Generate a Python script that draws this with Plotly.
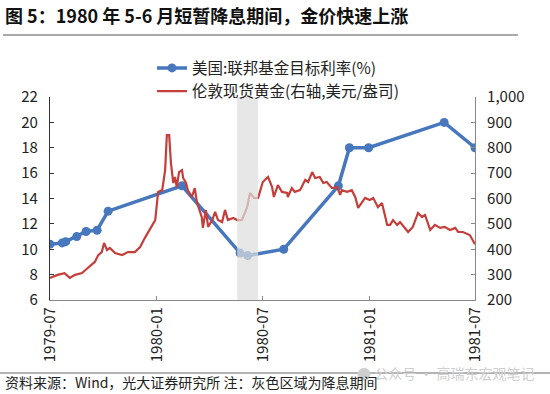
import plotly.graph_objects as go

# Fed funds target rate (%)
ff_dates = ["1979-07-01", "1979-07-22", "1979-07-28", "1979-08-16", "1979-09-01",
            "1979-09-20", "1979-10-09", "1980-02-13", "1980-05-23", "1980-06-05",
            "1980-08-06", "1980-11-08", "1980-11-27", "1980-12-30", "1981-05-09",
            "1981-07-01"]
ff_values = [10.4, 10.5, 10.6, 11.0, 11.4, 11.5, 13.0, 15.0, 9.7, 9.5,
             10.0, 15.0, 18.0, 18.0, 20.0, 18.0]

# London spot gold (USD/oz)
gold_dates = [
    "1979-07-01", "1979-07-14", "1979-07-26", "1979-08-04", "1979-08-13", "1979-08-25",
    "1979-09-04", "1979-09-16", "1979-09-22", "1979-09-28", "1979-10-02", "1979-10-07",
    "1979-10-12", "1979-10-21", "1979-11-02", "1979-11-12", "1979-11-24", "1979-12-03",
    "1979-12-11", "1979-12-23", "1979-12-29", "1980-01-03", "1980-01-10", "1980-01-15",
    "1980-01-18", "1980-01-22", "1980-01-25", "1980-01-29", "1980-02-01", "1980-02-04",
    "1980-02-08", "1980-02-13", "1980-02-15", "1980-02-20", "1980-02-23", "1980-03-01",
    "1980-03-06", "1980-03-10", "1980-03-18", "1980-03-20", "1980-03-25", "1980-03-29",
    "1980-04-05", "1980-04-10", "1980-04-15", "1980-04-22", "1980-04-27", "1980-05-02",
    "1980-05-11", "1980-05-18", "1980-05-26", "1980-06-04", "1980-06-09", "1980-06-16",
    "1980-06-23", "1980-06-26", "1980-07-01", "1980-07-10", "1980-07-17", "1980-07-20",
    "1980-07-27", "1980-08-03", "1980-08-12", "1980-08-13", "1980-08-20", "1980-08-25",
    "1980-09-03", "1980-09-12", "1980-09-17", "1980-09-24", "1980-09-29", "1980-10-07",
    "1980-10-13", "1980-10-19", "1980-10-28", "1980-11-06", "1980-11-11", "1980-11-14",
    "1980-11-23", "1980-12-01", "1980-12-07", "1980-12-12", "1980-12-19", "1980-12-24",
    "1981-01-01", "1981-01-07", "1981-01-15", "1981-01-22", "1981-01-31", "1981-02-05",
    "1981-02-10", "1981-02-17", "1981-02-22", "1981-03-03", "1981-03-08", "1981-03-16",
    "1981-03-25", "1981-04-01", "1981-04-06", "1981-04-15", "1981-04-23", "1981-05-02",
    "1981-05-10", "1981-05-19", "1981-05-28", "1981-06-02", "1981-06-10", "1981-06-22",
    "1981-07-01"]
gold_values = [
    287, 299, 306, 287, 299, 306,
    326, 350, 377, 389, 425, 397,
    405, 385, 377, 389, 389, 409,
    444, 488, 515, 626, 633, 712,
    850, 850, 740, 661, 685, 645,
    704, 712, 681, 661, 633, 606,
    641, 582, 527, 484, 555, 488,
    515, 547, 515, 507, 555, 515,
    523, 515, 515, 566, 622, 602,
    602, 626, 665, 685, 645, 606,
    653, 626, 622, 606, 641, 626,
    633, 673, 665, 704, 681, 685,
    661, 665, 641, 645, 614, 633,
    626, 633, 606, 563, 586, 602,
    594, 602, 566, 582, 496, 496,
    515, 496, 507, 484, 468, 488,
    543, 527, 535, 476, 496, 484,
    488, 476, 484, 468, 468, 456,
    420]

cut_start, cut_end = "1980-05-18", "1980-06-23"

x_ticks = ["1979-07-01", "1980-01-01", "1980-07-01", "1981-01-01", "1981-07-01"]
x_labels = ["1979-07", "1980-01", "1980-07", "1981-01", "1981-07"]
left_ticks = list(range(6, 23, 2))
right_ticks = list(range(200, 1001, 100))

FONT = "Noto Sans CJK SC"
BLUE = "#4777bd"
RED = "#c43f3b"

fig = go.Figure()
fig.add_trace(go.Scatter(
    x=ff_dates, y=ff_values, name="美国:联邦基金目标利率(%)",
    mode="lines+markers", line=dict(color=BLUE, width=3.5),
    marker=dict(color=BLUE, size=9)))
fig.add_trace(go.Scatter(
    x=gold_dates, y=gold_values, name="伦敦现货黄金(右轴,美元/盎司)",
    mode="lines", line=dict(color=RED, width=2.2), yaxis="y2"))

fig.add_shape(type="rect", xref="x", yref="paper", x0=cut_start, x1=cut_end,
              y0=0, y1=1, fillcolor="rgba(222,222,222,0.72)", line_width=0,
              layer="above")

axis_common = dict(showgrid=False, ticks="inside", ticklen=4, zeroline=False,
                   automargin=False,
                   tickfont=dict(family=FONT, size=15, color="#222"))

fig.update_layout(
    width=550, height=394, margin=dict(l=50, r=75, t=97, b=94),
    paper_bgcolor="white", plot_bgcolor="white",
    font=dict(family=FONT, color="#222"),
    showlegend=True,
    legend=dict(x=0.24, y=1.225, xanchor="left", yanchor="top",
                font=dict(family=FONT, size=15.5, color="#222"),
                bgcolor="rgba(0,0,0,0)", itemwidth=30, tracegroupgap=0),
    xaxis=dict(type="date", range=["1979-07-01", "1981-07-01"],
               tickvals=x_ticks, ticktext=x_labels, tickangle=-90,
               showline=True, linecolor="#888", linewidth=1.2,
               tickcolor="#888", **axis_common),
    yaxis=dict(range=[6, 22], tickvals=left_ticks, showline=True,
               linecolor="#333", linewidth=1.2, tickcolor="#333",
               ticklabelstandoff=8, **axis_common),
    yaxis2=dict(range=[200, 1000], tickvals=right_ticks, tickformat=",d",
                overlaying="y", side="right", showline=True,
                linecolor="#888", linewidth=1.2, tickcolor="#888",
                ticklabelstandoff=8, **axis_common),
)

fig.add_annotation(text="<b>图 5：1980 年 5-6 月短暂降息期间，金价快速上涨</b>",
                   xref="paper", yref="paper", x=-47/425, y=(300-15)/203,
                   xanchor="left", yanchor="middle", showarrow=False,
                   font=dict(family=FONT, size=18, color="#111"))
fig.add_shape(type="line", xref="paper", yref="paper",
              x0=-47/425, x1=468/425, y0=(300-35)/203, y1=(300-35)/203,
              line=dict(color="#555", width=1.2))
fig.add_shape(type="line", xref="paper", yref="paper",
              x0=-50/425, x1=500/425, y0=(300-373)/203, y1=(300-373)/203,
              line=dict(color="#666", width=1))
fig.add_annotation(text="● 公众号 · 高瑞东宏观笔记",
                   xref="paper", yref="paper", x=(536-50)/425, y=(300-373)/203,
                   xanchor="right", yanchor="middle", showarrow=False,
                   font=dict(family=FONT, size=14, color="#cfcfcf"))
fig.add_annotation(text="资料来源：Wind，光大证券研究所 注：灰色区域为降息期间",
                   xref="paper", yref="paper", x=-47/425, y=(300-382)/203,
                   xanchor="left", yanchor="middle", showarrow=False,
                   font=dict(family=FONT, size=14, color="#222"))

fig.write_html("out.html", config={"displayModeBar": False},
               post_script="document.body.style.margin='0';")
